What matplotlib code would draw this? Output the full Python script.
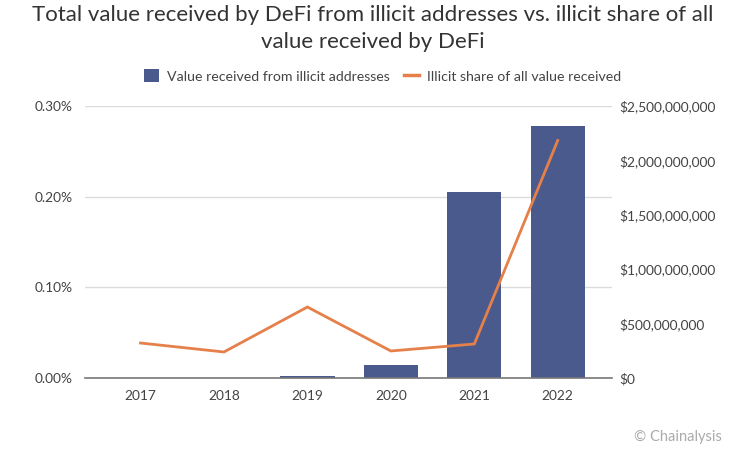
import matplotlib
matplotlib.use("Agg")
import matplotlib.pyplot as plt
from matplotlib.ticker import FuncFormatter
from matplotlib.lines import Line2D
from matplotlib.patches import Patch

years = ["2017", "2018", "2019", "2020", "2021", "2022"]
value_received = [0, 0, 18000000, 120000000, 1710000000, 2316000000]
illicit_share = [0.0386, 0.0287, 0.0783, 0.0298, 0.0375, 0.2620]
share_ticks = [0, 0.1, 0.2, 0.3]
value_ticks = [0, 500000000, 1000000000, 1500000000, 2000000000, 2500000000]

plt.rcParams['font.family'] = ['Lato', 'DejaVu Sans']
W, H = 754, 455
fig = plt.figure(figsize=(W/100, H/100), dpi=100, facecolor='white')
ax = fig.add_axes([85/W, 1-378/H, (612-85)/W, (378-106)/H])
ax2 = ax.twinx()
ax.set_zorder(2); ax.patch.set_visible(False)
ax2.set_zorder(1)

x = range(len(years))
ax2.bar(x, value_received, width=0.65, color='#4b5a8c', zorder=3)
ax2.set_ylim(0, 2500000000)
ax2.set_yticks(value_ticks)
ax2.yaxis.set_major_formatter(FuncFormatter(lambda v, _: f"${int(v):,}"))

ax.plot(x, illicit_share, color='#e5804a', lw=2.0, zorder=4, solid_joinstyle='miter')
ax.set_ylim(0, 0.3)
ax.set_xlim(-0.665, 5.65)
ax.set_yticks(share_ticks)
ax.yaxis.set_major_formatter(FuncFormatter(lambda v, _: f"{v:.2f}%"))
ax.set_xticks(list(x))
ax.set_xticklabels(years)

ax2.grid(False)
for t in share_ticks[1:]:
    ax2.axhline(t/0.3*2500000000, color='#dcdcdc', lw=1, zorder=0)

for a in (ax, ax2):
    for s in a.spines.values():
        s.set_visible(False)
    a.tick_params(length=0, labelsize=9.9, labelcolor='#444444')
ax.tick_params(axis='x', pad=9)
ax.tick_params(axis='y', pad=9)
ax2.tick_params(axis='y', pad=5.5)
ax.spines['bottom'].set_visible(True)
ax.spines['bottom'].set_color('#777777')
ax.spines['bottom'].set_linewidth(1.2)

fig.text(373/W, 1-15/H, "Total value received by DeFi from illicit addresses vs. illicit share of all",
         ha='center', va='center', fontsize=16, color='#333333')
fig.text(373/W, 1-42/H, "value received by DeFi",
         ha='center', va='center', fontsize=16, color='#333333')

handles = [Patch(facecolor='#4b5a8c', label='Value received from illicit addresses'),
           Line2D([0], [0], color='#e5804a', lw=2.5, label='Illicit share of all value received')]
fig.legend(handles=handles, loc='center', bbox_to_anchor=(382.5/W, 1-76/H), ncol=2, frameon=False,
           fontsize=10.2, labelcolor='#444444', handlelength=1.05, handleheight=1.0,
           columnspacing=1.0, handletextpad=0.55)

fig.text(634/W, 1-437/H, "© Chainalysis", ha='left', va='center', fontsize=10.5, color='#aaaaaa')
fig.savefig("out.png", dpi=100)
